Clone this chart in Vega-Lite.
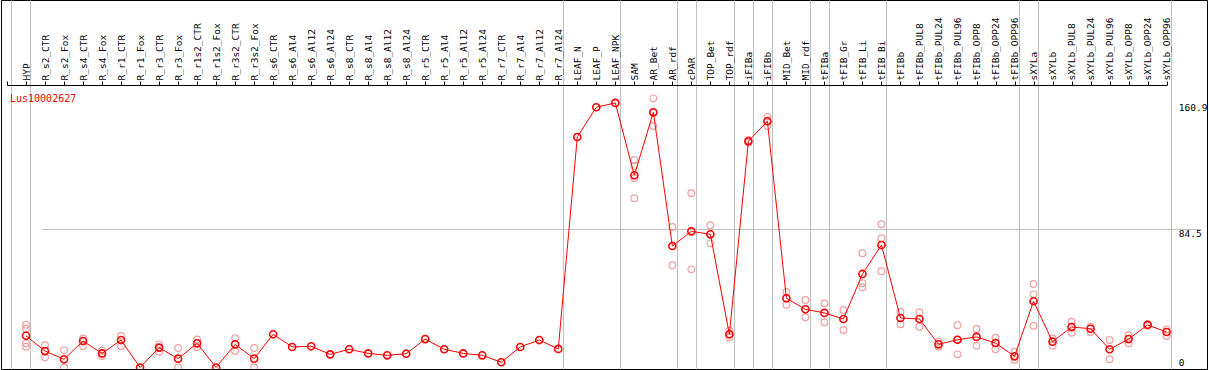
{
  "$schema": "https://vega.github.io/schema/vega-lite/v6.json",
  "width": 1206,
  "height": 369,
  "autosize": "none",
  "padding": {"left": 1, "top": 0, "right": 2, "bottom": 1},
  "background": "white",
  "view": {"stroke": "black", "strokeWidth": 1},
  "config": {"font": "DejaVu Sans Mono"},
  "title": {"text": "Lus10002627", "anchor": "start", "frame": "group", "color": "red", "font": "DejaVu Sans Mono", "fontSize": 10, "fontWeight": "normal", "baseline": "alphabetic", "offset": -112, "dx": 9},
  "datasets": {
    "means": [
      {"sample": "HYP", "value": 19.3}, {"sample": "R_s2_CTR", "value": 10.0}, {"sample": "R_s2_Fox", "value": 5.0},
      {"sample": "R_s4_CTR", "value": 16.1}, {"sample": "R_s4_Fox", "value": 8.6}, {"sample": "R_r1_CTR", "value": 16.7},
      {"sample": "R_r1_Fox", "value": 0}, {"sample": "R_r3_CTR", "value": 12.1}, {"sample": "R_r3_Fox", "value": 5.4},
      {"sample": "R_r1s2_CTR", "value": 14.7}, {"sample": "R_r1s2_Fox", "value": 0}, {"sample": "R_r3s2_CTR", "value": 14.1},
      {"sample": "R_r3s2_Fox", "value": 5.4}, {"sample": "R_s6_CTR", "value": 20.2}, {"sample": "R_s6_Al4", "value": 12.5},
      {"sample": "R_s6_Al12", "value": 12.9}, {"sample": "R_s6_Al24", "value": 8.0}, {"sample": "R_s8_CTR", "value": 11.1},
      {"sample": "R_s8_Al4", "value": 8.6}, {"sample": "R_s8_Al12", "value": 7.4}, {"sample": "R_s8_Al24", "value": 8.4},
      {"sample": "R_r5_CTR", "value": 17.3}, {"sample": "R_r5_Al4", "value": 11.1}, {"sample": "R_r5_Al12", "value": 8.6},
      {"sample": "R_r5_Al24", "value": 7.4}, {"sample": "R_r7_CTR", "value": 3.2}, {"sample": "R_r7_Al4", "value": 12.5},
      {"sample": "R_r7_Al12", "value": 16.7}, {"sample": "R_r7_Al24", "value": 11.3}, {"sample": "LEAF_N", "value": 140.2},
      {"sample": "LEAF_P", "value": 158.3}, {"sample": "LEAF_NPK", "value": 160.9}, {"sample": "SAM", "value": 116.9},
      {"sample": "AR_Bet", "value": 155.2}, {"sample": "AR_rdf", "value": 73.9}, {"sample": "cPAR", "value": 82.8},
      {"sample": "TOP_Bet", "value": 81.0}, {"sample": "TOP_rdf", "value": 20.2}, {"sample": "iFIBa", "value": 137.6},
      {"sample": "iFIBb", "value": 149.8}, {"sample": "MID_Bet", "value": 42.1}, {"sample": "MID_rdf", "value": 35.4},
      {"sample": "tFIBa", "value": 33.2}, {"sample": "tFIB_Gr", "value": 29.5}, {"sample": "tFIB_Li", "value": 56.9},
      {"sample": "tFIB_Bi", "value": 74.5}, {"sample": "tFIBb", "value": 30.1}, {"sample": "tFIBb_PUL8", "value": 29.5},
      {"sample": "tFIBb_PUL24", "value": 14.1}, {"sample": "tFIBb_PUL96", "value": 16.9}, {"sample": "tFIBb_OPP8", "value": 18.6},
      {"sample": "tFIBb_OPP24", "value": 14.9}, {"sample": "tFIBb_OPP96", "value": 6.8}, {"sample": "sXYLa", "value": 40.3},
      {"sample": "sXYLb", "value": 15.7}, {"sample": "sXYLb_PUL8", "value": 24.6}, {"sample": "sXYLb_PUL24", "value": 23.6},
      {"sample": "sXYLb_PUL96", "value": 11.1}, {"sample": "sXYLb_OPP8", "value": 17.3}, {"sample": "sXYLb_OPP24", "value": 25.9},
      {"sample": "sXYLb_OPP96", "value": 21.6}
    ],
    "reps": [
      {"sample": "HYP", "value": 26.0}, {"sample": "HYP", "value": 23.6}, {"sample": "HYP", "value": 14.7}, {"sample": "HYP", "value": 12.7},
      {"sample": "R_s2_CTR", "value": 13.5}, {"sample": "R_s2_CTR", "value": 6.2},
      {"sample": "R_s2_Fox", "value": 10.6}, {"sample": "R_s2_Fox", "value": 0},
      {"sample": "R_s4_CTR", "value": 17.7}, {"sample": "R_s4_CTR", "value": 13.1},
      {"sample": "R_s4_Fox", "value": 10.2}, {"sample": "R_s4_Fox", "value": 7.0},
      {"sample": "R_r1_CTR", "value": 19.2}, {"sample": "R_r1_CTR", "value": 13.1},
      {"sample": "R_r3_CTR", "value": 14.1}, {"sample": "R_r3_CTR", "value": 9.6},
      {"sample": "R_r3_Fox", "value": 11.9}, {"sample": "R_r3_Fox", "value": 0},
      {"sample": "R_r1s2_CTR", "value": 17.1}, {"sample": "R_r1s2_CTR", "value": 12.3},
      {"sample": "R_r3s2_CTR", "value": 17.9}, {"sample": "R_r3s2_CTR", "value": 10.0},
      {"sample": "R_r3s2_Fox", "value": 11.9}, {"sample": "R_r3s2_Fox", "value": 0},
      {"sample": "SAM", "value": 126.2}, {"sample": "SAM", "value": 122.6}, {"sample": "SAM", "value": 115.3}, {"sample": "SAM", "value": 102.9},
      {"sample": "AR_Bet", "value": 163.7}, {"sample": "AR_Bet", "value": 155.0}, {"sample": "AR_Bet", "value": 146.9},
      {"sample": "AR_rdf", "value": 85.5}, {"sample": "AR_rdf", "value": 62.2},
      {"sample": "cPAR", "value": 106.0}, {"sample": "cPAR", "value": 59.7},
      {"sample": "TOP_Bet", "value": 86.5}, {"sample": "TOP_Bet", "value": 75.5},
      {"sample": "TOP_rdf", "value": 22.4}, {"sample": "TOP_rdf", "value": 18.4},
      {"sample": "iFIBa", "value": 138.4}, {"sample": "iFIBa", "value": 136.8},
      {"sample": "iFIBb", "value": 152.6}, {"sample": "iFIBb", "value": 146.9},
      {"sample": "MID_Bet", "value": 45.9}, {"sample": "MID_Bet", "value": 38.2},
      {"sample": "MID_rdf", "value": 41.1}, {"sample": "MID_rdf", "value": 30.5},
      {"sample": "tFIBa", "value": 39.0}, {"sample": "tFIBa", "value": 27.5},
      {"sample": "tFIB_Gr", "value": 35.0}, {"sample": "tFIB_Gr", "value": 22.8},
      {"sample": "tFIB_Li", "value": 69.5}, {"sample": "tFIB_Li", "value": 51.2}, {"sample": "tFIB_Li", "value": 48.8},
      {"sample": "tFIB_Bi", "value": 87.1}, {"sample": "tFIB_Bi", "value": 78.6}, {"sample": "tFIB_Bi", "value": 58.5},
      {"sample": "tFIBb", "value": 33.9}, {"sample": "tFIBb", "value": 26.3},
      {"sample": "tFIBb_PUL8", "value": 33.6}, {"sample": "tFIBb_PUL8", "value": 24.8},
      {"sample": "tFIBb_PUL24", "value": 15.7}, {"sample": "tFIBb_PUL24", "value": 12.7},
      {"sample": "tFIBb_PUL96", "value": 25.7}, {"sample": "tFIBb_PUL96", "value": 16.9}, {"sample": "tFIBb_PUL96", "value": 8.0},
      {"sample": "tFIBb_OPP8", "value": 23.4}, {"sample": "tFIBb_OPP8", "value": 13.3},
      {"sample": "tFIBb_OPP24", "value": 18.1}, {"sample": "tFIBb_OPP24", "value": 11.1},
      {"sample": "tFIBb_OPP96", "value": 9.6}, {"sample": "tFIBb_OPP96", "value": 4.6},
      {"sample": "sXYLa", "value": 50.8}, {"sample": "sXYLa", "value": 44.5}, {"sample": "sXYLa", "value": 25.4},
      {"sample": "sXYLb", "value": 17.7}, {"sample": "sXYLb", "value": 13.3},
      {"sample": "sXYLb_PUL8", "value": 27.9}, {"sample": "sXYLb_PUL8", "value": 21.2},
      {"sample": "sXYLb_PUL24", "value": 24.8}, {"sample": "sXYLb_PUL24", "value": 21.6},
      {"sample": "sXYLb_PUL96", "value": 16.7}, {"sample": "sXYLb_PUL96", "value": 5.0},
      {"sample": "sXYLb_OPP8", "value": 19.6}, {"sample": "sXYLb_OPP8", "value": 14.7},
      {"sample": "sXYLb_OPP24", "value": 26.3}, {"sample": "sXYLb_OPP24", "value": 25.5},
      {"sample": "sXYLb_OPP96", "value": 23.2}, {"sample": "sXYLb_OPP96", "value": 19.2}
    ]
  },
  "encoding": {
    "y": {
      "field": "value", "type": "quantitative",
      "scale": {"domain": [-0.9, 223.5], "nice": false, "zero": false},
      "axis": {
        "orient": "right", "values": [0, 84.5, 160.9], "title": null, "domain": false, "ticks": false,
        "labelAlign": "left", "labelPadding": -28.7, "labelFont": "DejaVu Sans Mono", "labelFontSize": 9.5, "labelColor": "black",
        "labelExpr": "'' + datum.value", "labelFlush": false, "labelBound": false, "labelOverlap": false,
        "labelBaseline": {"condition": {"test": "datum.value == 0", "value": "bottom"}, "value": "top"},
        "grid": true,
        "gridColor": {"condition": {"test": "datum.value == 84.5", "value": "#c0c0c0"}, "value": "transparent"},
        "gridWidth": 1
      }
    }
  },
  "layer": [
    {
      "data": {"name": "reps"},
      "mark": {"type": "point", "filled": false, "color": "#f0a0a0", "size": 45, "strokeWidth": 1.2, "opacity": 1, "clip": true},
      "encoding": {
        "x": {
          "field": "sample", "type": "nominal", "sort": null,
          "scale": {"type": "point", "padding": 0, "range": [6, 1165.6], "domain": ["", "HYP", "R_s2_CTR", "R_s2_Fox", "R_s4_CTR", "R_s4_Fox", "R_r1_CTR", "R_r1_Fox", "R_r3_CTR", "R_r3_Fox", "R_r1s2_CTR", "R_r1s2_Fox", "R_r3s2_CTR", "R_r3s2_Fox", "R_s6_CTR", "R_s6_Al4", "R_s6_Al12", "R_s6_Al24", "R_s8_CTR", "R_s8_Al4", "R_s8_Al12", "R_s8_Al24", "R_r5_CTR", "R_r5_Al4", "R_r5_Al12", "R_r5_Al24", "R_r7_CTR", "R_r7_Al4", "R_r7_Al12", "R_r7_Al24", "LEAF_N", "LEAF_P", "LEAF_NPK", "SAM", "AR_Bet", "AR_rdf", "cPAR", "TOP_Bet", "TOP_rdf", "iFIBa", "iFIBb", "MID_Bet", "MID_rdf", "tFIBa", "tFIB_Gr", "tFIB_Li", "tFIB_Bi", "tFIBb", "tFIBb_PUL8", "tFIBb_PUL24", "tFIBb_PUL96", "tFIBb_OPP8", "tFIBb_OPP24", "tFIBb_OPP96", "sXYLa", "sXYLb", "sXYLb_PUL8", "sXYLb_PUL24", "sXYLb_PUL96", "sXYLb_OPP8", "sXYLb_OPP24", "sXYLb_OPP96"]},
          "axis": {
            "orient": "top", "offset": -85, "title": null, "labelAngle": -90, "labelAlign": "left", "labelBaseline": "middle",
            "labelFont": "DejaVu Sans Mono", "labelFontSize": 9.5, "labelColor": "black", "labelPadding": 1,
            "tickSize": 4, "tickColor": "black", "domainColor": "black", "grid": false, "labelOverlap": false, "labelBound": false
          }
        }
      }
    },
    {
      "data": {"name": "means"},
      "mark": {"type": "line", "color": "red", "strokeWidth": 1, "clip": true},
      "encoding": {
        "x": {
          "field": "sample", "type": "nominal", "sort": null,
          "axis": {
            "orient": "bottom", "title": null, "labels": false, "ticks": false, "domain": false, "grid": true, "tickOffset": 4.4, "gridWidth": 1,
            "gridColor": {"condition": {"test": "indexof(['', 'HYP', 'R_r7_Al24', 'LEAF_NPK', 'AR_rdf', 'cPAR', 'TOP_rdf', 'iFIBa', 'iFIBb', 'MID_rdf', 'tFIBa', 'tFIB_Bi', 'tFIBb_OPP96', 'sXYLa', 'sXYLb_OPP96'], datum.value) >= 0", "value": "#c0c0c0"}, "value": "transparent"}
          }
        }
      }
    },
    {
      "data": {"name": "means"},
      "mark": {"type": "point", "filled": false, "color": "red", "size": 50, "strokeWidth": 1.6, "opacity": 1, "clip": true},
      "encoding": {
        "x": {"field": "sample", "type": "nominal", "sort": null, "axis": null}
      }
    }
  ],
  "resolve": {"axis": {"x": "independent"}}
}
